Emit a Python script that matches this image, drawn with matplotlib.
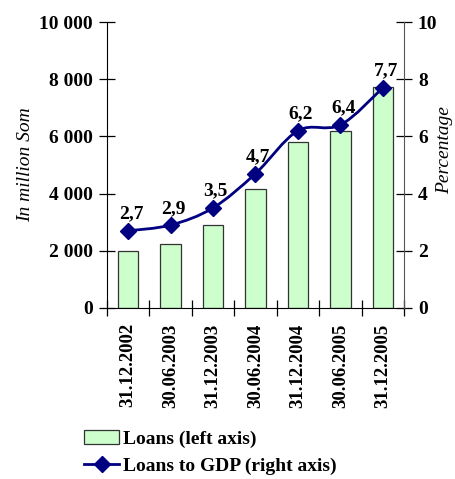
import matplotlib
matplotlib.use("Agg")
import matplotlib.pyplot as plt
from matplotlib.path import Path
from matplotlib.patches import PathPatch, Patch
from matplotlib.lines import Line2D
import numpy as np

# Loans outstanding (million Som) and loans-to-GDP ratio (%)
dates = ["31.12.2002", "30.06.2003", "31.12.2003", "30.06.2004",
         "31.12.2004", "30.06.2005", "31.12.2005"]
loans = [1990, 2240, 2890, 4150, 5815, 6190, 7715]
loans_to_gdp = [2.7, 2.9, 3.5, 4.7, 6.2, 6.4, 7.7]
gdp_labels = ["2,7", "2,9", "3,5", "4,7", "6,2", "6,4", "7,7"]

plt.rcParams['font.family'] = ['Liberation Serif', 'DejaVu Serif']

fig = plt.figure(figsize=(4.55, 4.79), dpi=100)
ax = fig.add_axes([0.235, 0.357, 0.653, 0.597])

x = np.arange(len(dates))
ax.bar(x, loans, width=0.48, color='#ccffcc', edgecolor='#333333', linewidth=0.9, zorder=2)
ax.set_xlim(-0.5, len(dates) - 0.5)
ax.set_ylim(0, 10000)
ax.set_yticks(range(0, 10001, 2000))
ax.set_yticklabels(["0", "2 000", "4 000", "6 000", "8 000", "10 000"],
                   fontsize=14, fontweight='bold')
ax.set_xticks(x)
ax.set_xticklabels(dates, rotation=90, fontsize=13.5, fontweight='bold')
ax.tick_params(axis='x', length=0, pad=11)
ax.set_xticks(np.arange(-0.5, len(dates), 1.0), minor=True)
ax.tick_params(axis='x', which='minor', direction='inout', length=12, width=0.9)
ax.tick_params(axis='y', direction='inout', length=12, width=0.9, pad=4)
ax.spines['top'].set_visible(False)
ax.spines['right'].set_visible(False)
ax.set_ylabel("In million Som", fontsize=14, fontstyle='italic', labelpad=4)

ax2 = ax.twinx()
ax2.set_ylim(0, 10)
ax2.set_yticks(range(0, 11, 2))
ax2.set_yticklabels([str(v) for v in range(0, 11, 2)], fontsize=14, fontweight='bold')
ax2.tick_params(axis='y', direction='inout', length=12, width=0.9, pad=4)
for s in ['top', 'left', 'bottom']:
    ax2.spines[s].set_visible(False)
ax2.spines['right'].set_color('#555555')
fig.text(445 / 455, 1 - 150 / 479, "Percentage", rotation=90, ha='center', va='center',
         fontsize=14, fontstyle='italic')

# smoothed line through the ratio points (Catmull-Rom as cubic Bezier)
pts = np.column_stack([x, loans_to_gdp]).astype(float)
verts = [tuple(pts[0])]
codes = [Path.MOVETO]
n = len(pts)
for i in range(n - 1):
    p0 = pts[i - 1] if i > 0 else pts[i]
    p1, p2 = pts[i], pts[i + 1]
    p3 = pts[i + 2] if i + 2 < n else pts[i + 1]
    c1 = p1 + (p2 - p0) / 6.0
    c2 = p2 - (p3 - p1) / 6.0
    verts += [tuple(c1), tuple(c2), tuple(p2)]
    codes += [Path.CURVE4] * 3
ax2.add_patch(PathPatch(Path(verts, codes), facecolor='none',
                        edgecolor='#000080', linewidth=2, zorder=3))
ax2.plot(x, loans_to_gdp, linestyle='none', marker='D', markersize=8,
         color='#000080', zorder=4)

for xi, yi, lab in zip(x, loans_to_gdp, gdp_labels):
    ax2.annotate(lab, (xi, yi), xytext=(2, 6), textcoords='offset points',
                 ha='center', va='bottom', fontsize=14, fontweight='bold')

handles = [Patch(facecolor='#ccffcc', edgecolor='#333333', linewidth=0.9),
           Line2D([], [], color='#000080', linewidth=2, marker='D', markersize=8)]
fig.legend(handles, ["Loans (left axis)", "Loans to GDP (right axis)"],
           loc='lower left', bbox_to_anchor=(0.168, -0.008), frameon=False,
           prop={'size': 14, 'weight': 'bold'}, handlelength=1.8,
           handletextpad=0.2, labelspacing=0.5, borderaxespad=0)

fig.savefig("out.png", dpi=100)
